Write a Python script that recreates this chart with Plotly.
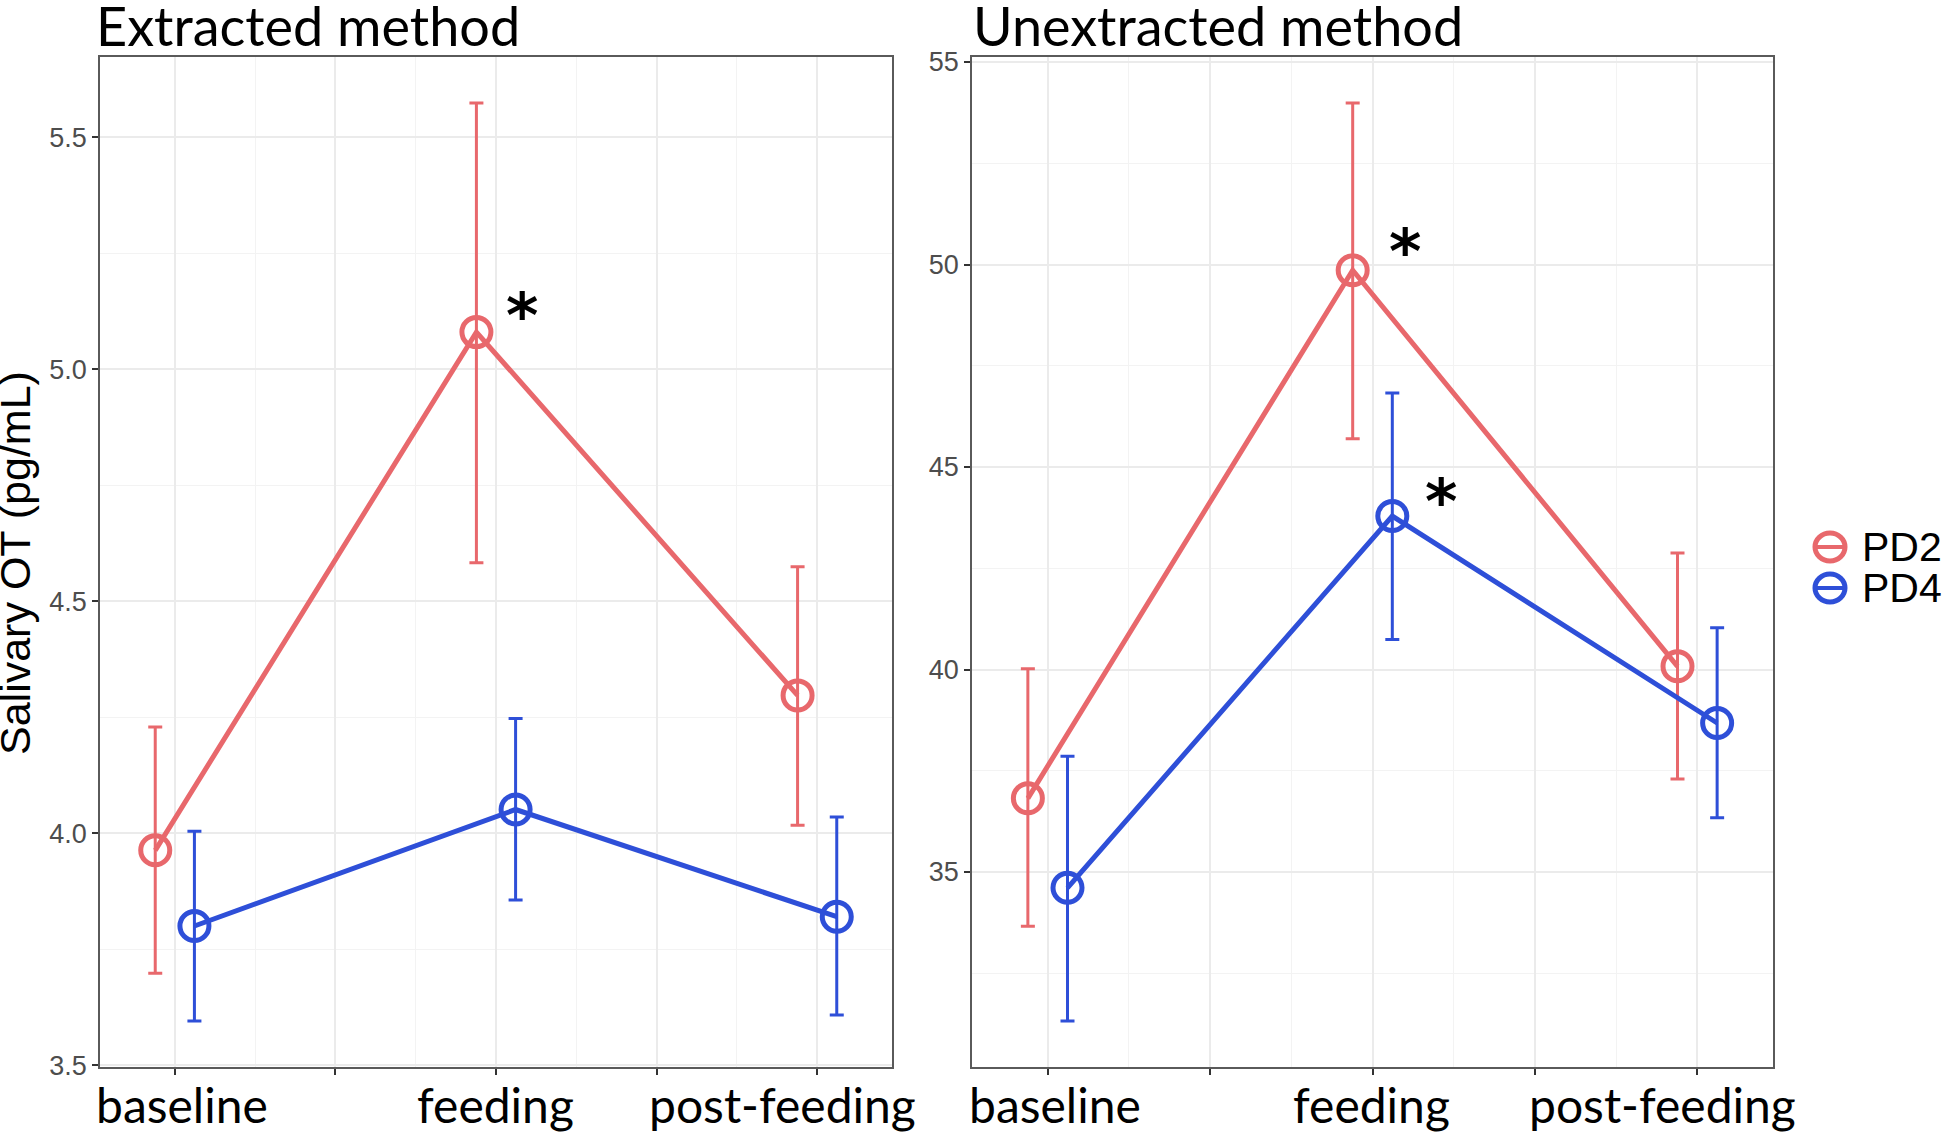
"""Salivary OT: extracted vs unextracted method, PD2 vs PD4."""

import plotly.graph_objects as go


phases = ["baseline", "feeding", "post-feeding"]
groups = ["PD2", "PD4"]

# Extracted method (pg/mL): mean, lower and upper error limits
extracted_pd2 = [3.963, 5.080, 4.297]
extracted_pd2_lo = [3.698, 4.583, 4.017]
extracted_pd2_hi = [4.229, 5.574, 4.574]
extracted_pd4 = [3.800, 4.051, 3.820]
extracted_pd4_lo = [3.595, 3.856, 3.608]
extracted_pd4_hi = [4.004, 4.247, 4.035]

# Unextracted method (pg/mL)
unextracted_pd2 = [36.82, 49.86, 40.08]
unextracted_pd2_lo = [33.66, 45.70, 37.30]
unextracted_pd2_hi = [40.02, 53.99, 42.88]
unextracted_pd4 = [34.61, 43.79, 38.68]
unextracted_pd4_lo = [31.32, 40.74, 36.34]
unextracted_pd4_hi = [37.86, 46.83, 41.03]

extracted_ticks = [3.5, 4.0, 4.5, 5.0, 5.5]
unextracted_ticks = [35, 40, 45, 50, 55]

COLORS = {"PD2": "#E8686C", "PD4": "#2E4FD8"}
DODGE = {"PD2": -0.061, "PD4": 0.061}
GRID = "#EBEBEB"
MINOR_GRID = "#F3F3F3"
BORDER = "#5A5A5A"
TICK_FONT = dict(family="Liberation Sans Narrow, Liberation Sans", size=27, color="#4D4D4D")
LABEL_FONT = "Lato"

fig = go.Figure()

panels = [
    ("x", "y", {
        "PD2": (extracted_pd2, extracted_pd2_lo, extracted_pd2_hi),
        "PD4": (extracted_pd4, extracted_pd4_lo, extracted_pd4_hi),
    }),
    ("x2", "y2", {
        "PD2": (unextracted_pd2, unextracted_pd2_lo, unextracted_pd2_hi),
        "PD4": (unextracted_pd4, unextracted_pd4_lo, unextracted_pd4_hi),
    }),
]

y_ranges = []
for xref, yref, series in panels:
    lows, highs = [], []
    for g in groups:
        mean, lo, hi = series[g]
        lows += lo
        highs += hi
        fig.add_trace(go.Scatter(
            x=[i + 1 + DODGE[g] for i in range(len(phases))],
            y=mean,
            mode="lines+markers",
            name=g,
            xaxis=xref,
            yaxis=yref,
            showlegend=False,
            line=dict(color=COLORS[g], width=5),
            marker=dict(symbol="circle-open", size=29, color=COLORS[g],
                        line=dict(width=5, color=COLORS[g])),
            error_y=dict(
                type="data",
                symmetric=False,
                array=[h - m for h, m in zip(hi, mean)],
                arrayminus=[m - l for m, l in zip(mean, lo)],
                color=COLORS[g],
                thickness=3,
                width=7,
            ),
        ))
    # ggplot-style 5% expansion
    pad = 0.05 * (max(highs) - min(lows))
    y_ranges.append([min(lows) - pad, max(highs) + pad])

x_common = dict(
    range=[0.767, 3.233],
    tickvals=[1, 1.5, 2, 2.5, 3],
    ticktext=[""] * 5,
    ticks="outside",
    ticklen=6,
    tickwidth=1.5,
    tickcolor="#333333",
    showgrid=True,
    gridcolor=GRID,
    gridwidth=1.6,
    minor=dict(tickvals=[1.25, 1.75, 2.25, 2.75], showgrid=True,
               gridcolor=MINOR_GRID, gridwidth=1, ticks=""),
    showline=True,
    mirror=True,
    linecolor=BORDER,
    linewidth=1.5,
    zeroline=False,
    automargin=False,
)

y_common = dict(
    ticks="outside",
    ticklen=6,
    tickwidth=1.5,
    tickcolor="#333333",
    tickfont=TICK_FONT,
    showgrid=True,
    gridcolor=GRID,
    gridwidth=1.6,
    showline=True,
    mirror=True,
    linecolor=BORDER,
    linewidth=1.5,
    zeroline=False,
    automargin=False,
)

W, H = 1952, 1132
y_dom = [1 - 1067 / H, 1 - 57 / H]

fig.update_layout(
    width=W,
    height=H,
    margin=dict(l=0, r=0, t=0, b=0),
    paper_bgcolor="white",
    plot_bgcolor="white",
    showlegend=False,
    xaxis=dict(domain=[100 / W, 892 / W], anchor="y", **x_common),
    xaxis2=dict(domain=[972 / W, 1773 / W], anchor="y2", **x_common),
    yaxis=dict(domain=y_dom, anchor="x", range=y_ranges[0],
               tickvals=extracted_ticks,
               ticktext=[f"{v:.1f}" for v in extracted_ticks],
               minor=dict(dtick=0.25, tick0=3.25, showgrid=True,
                          gridcolor=MINOR_GRID, gridwidth=1, ticks=""),
               **y_common),
    yaxis2=dict(domain=y_dom, anchor="x2", range=y_ranges[1],
                tickvals=unextracted_ticks,
                ticktext=[str(v) for v in unextracted_ticks],
                minor=dict(dtick=2.5, tick0=32.5, showgrid=True,
                           gridcolor=MINOR_GRID, gridwidth=1, ticks=""),
                **y_common),
)

# panel titles
for text, x0 in [("Extracted method", 94), ("Unextracted method", 971)]:
    fig.add_annotation(text=text, xref="paper", yref="paper", x=x0 / W, y=1,
                       xanchor="left", yanchor="top", yshift=9, showarrow=False,
                       font=dict(family=LABEL_FONT, size=54, color="black"))

# phase labels under each panel (hand-placed in the original)
label_shift = [7, -1, -35]
for xref in ["x", "x2"]:
    for i, name in enumerate(phases):
        fig.add_annotation(text=name, xref=xref, yref="paper", x=i + 1, y=0,
                           xanchor="center", yanchor="bottom", xshift=label_shift[i],
                           yshift=-3, showarrow=False,
                           font=dict(family=LABEL_FONT, size=48, color="black"))

# y-axis title
fig.add_annotation(text="Salivary OT (pg/mL)", xref="paper", yref="paper",
                   x=0, y=1 - 563 / H, xanchor="left", yanchor="middle",
                   textangle=-90, xshift=-11, showarrow=False,
                   font=dict(family="Liberation Sans", size=43, color="black"))

# significance marks at feeding
stars = [("x", "y", 2 + DODGE["PD2"], extracted_pd2[1], 46, 17),
         ("x2", "y2", 2 + DODGE["PD2"], unextracted_pd2[1], 52, 19),
         ("x2", "y2", 2 + DODGE["PD4"], unextracted_pd4[1], 49, 15)]
for xref, yref, sx, sy, dx, dy in stars:
    fig.add_annotation(text="<b>*</b>", xref=xref, yref=yref, x=sx, y=sy,
                       xanchor="center", yanchor="middle", xshift=dx, yshift=dy,
                       showarrow=False,
                       font=dict(family="DejaVu Sans", size=62, color="black"))

# legend (ggplot style: open circle crossed by the line)
legend_x = 1830 / W
for g, cy in [("PD2", 547), ("PD4", 588)]:
    yc = 1 - cy / H
    fig.add_shape(type="circle", xref="paper", yref="paper",
                  xsizemode="pixel", ysizemode="pixel",
                  xanchor=legend_x, yanchor=yc, x0=-15, x1=15, y0=-14, y1=14,
                  line=dict(color=COLORS[g], width=5))
    fig.add_shape(type="line", xref="paper", yref="paper",
                  xsizemode="pixel", ysizemode="pixel",
                  xanchor=legend_x, yanchor=yc, x0=-15, x1=15, y0=0, y1=0,
                  line=dict(color=COLORS[g], width=4))
    fig.add_annotation(text=g, xref="paper", yref="paper", x=1861 / W, y=yc,
                       xanchor="left", yanchor="middle", height=34, borderpad=0,
                       showarrow=False,
                       font=dict(family="Liberation Sans", size=41, color="black"))

fig.write_html("out.html",
               config={"displayModeBar": False},
               post_script="document.body.style.margin='0px';"
                           "document.body.style.overflow='hidden';")
